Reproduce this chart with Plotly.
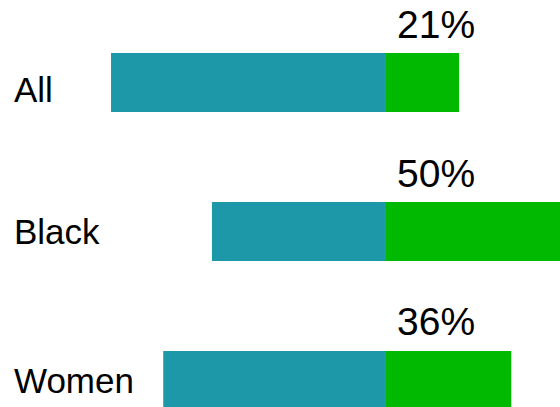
import plotly.graph_objects as go

categories = ["All", "Black", "Women"]
other_pct = [79, 50, 64]
highlight_pct = [21, 50, 36]
highlight_labels = ["21%", "50%", "36%"]

TEAL = "#1C98A8"
GREEN = "#00B900"
FONT = "Liberation Sans, Arial, sans-serif"

fig = go.Figure()
fig.add_trace(go.Bar(
    y=categories, x=[-v for v in other_pct], orientation="h",
    marker=dict(color=TEAL, line=dict(width=0)), width=0.396,
    hoverinfo="skip", showlegend=False,
))
fig.add_trace(go.Bar(
    y=categories, x=highlight_pct, orientation="h",
    marker=dict(color=GREEN, line=dict(width=0)), width=0.396,
    hoverinfo="skip", showlegend=False,
))

label_shift = {"All": -7, "Black": 0, "Women": 0}
pct_shift = {"All": 58, "Black": 58, "Women": 59}
annotations = []
for cat, txt in zip(categories, highlight_labels):
    annotations.append(dict(
        x=12 / 560, xref="paper", y=cat, yref="y", text=cat,
        xanchor="left", yanchor="middle", showarrow=False,
        yshift=label_shift[cat],
        font=dict(family=FONT, size=35, color="black"),
    ))
    annotations.append(dict(
        x=0, xref="x", y=cat, yref="y", text=txt,
        xanchor="left", yanchor="middle", showarrow=False,
        xshift=9, yshift=pct_shift[cat],
        font=dict(family=FONT, size=39, color="black"),
    ))

fig.update_layout(
    width=560, height=407,
    margin=dict(l=0, r=0, t=0, b=0),
    barmode="relative",
    paper_bgcolor="white", plot_bgcolor="white",
    annotations=annotations,
    xaxis=dict(range=[-110.9, 50], showgrid=False, zeroline=False,
               showticklabels=False, showline=False, fixedrange=True),
    yaxis=dict(type="category", categoryorder="array", categoryarray=categories,
               range=[2.178, -0.554], showgrid=False, zeroline=False,
               showticklabels=False, showline=False, fixedrange=True),
)

fig.write_html(
    "out.html",
    config={"displayModeBar": False},
    post_script="document.body.style.margin='0';document.body.style.overflow='hidden';",
)
